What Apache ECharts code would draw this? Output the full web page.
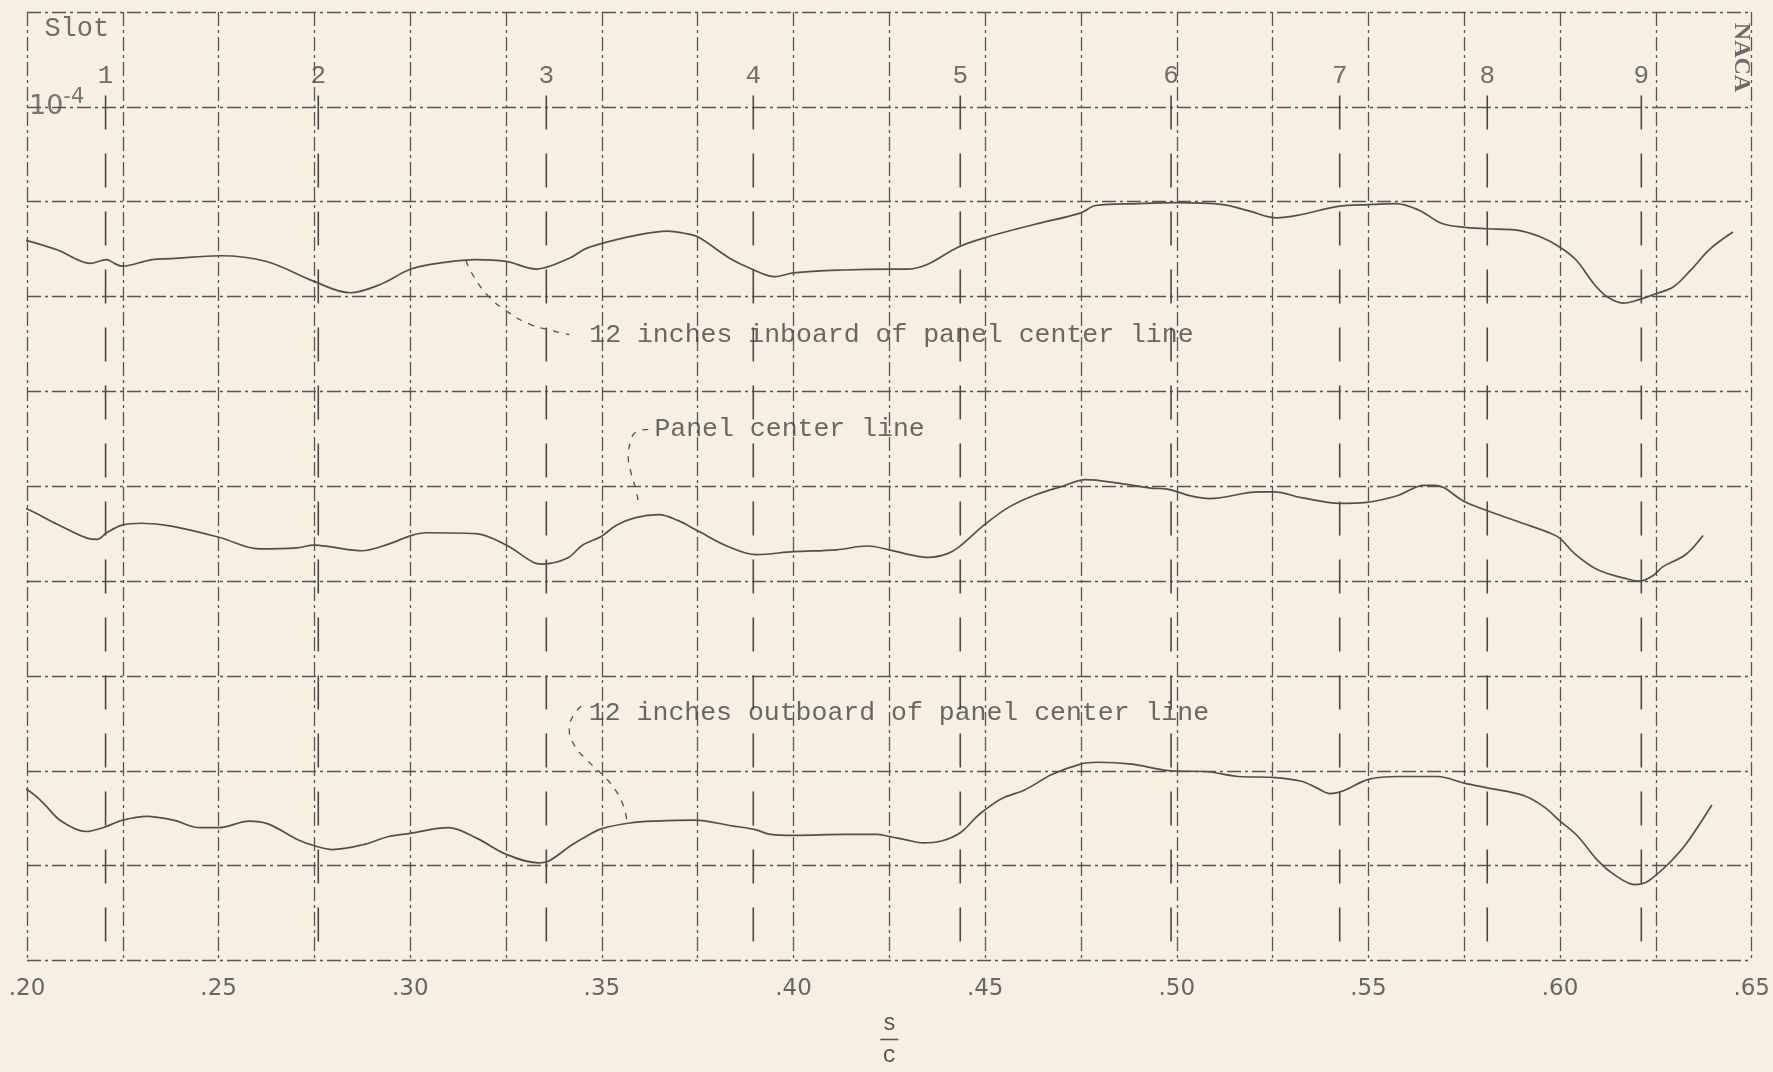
<!DOCTYPE html>
<html>
<head>
<meta charset="utf-8">
<script src="https://cdn.jsdelivr.net/npm/echarts/dist/echarts.min.js"></script>
<style>
html,body{margin:0;padding:0;background:#f7efe2;}
#chart{width:1773px;height:1072px;}
</style>
</head>
<body>
<div id="chart"></div>
<script>
// ---- data (x = s/c, y in grid units; one grid unit = 10^-4) ----
const inboard = [
  [0.197,7.61],[0.200,7.59],[0.208,7.49],[0.2165,7.35],[0.2195,7.38],[0.2208,7.39],[0.2228,7.35],[0.2248,7.32],
  [0.2327,7.39],[0.2377,7.40],[0.2503,7.43],[0.2625,7.37],[0.2749,7.16],[0.2843,7.04],[0.2923,7.13],[0.3002,7.29],
  [0.3090,7.36],[0.3171,7.39],[0.3250,7.37],[0.3329,7.29],[0.3418,7.41],[0.3455,7.50],[0.3500,7.56],[0.3582,7.64],
  [0.3671,7.69],[0.3711,7.67],[0.3750,7.63],[0.3831,7.41],[0.3891,7.29],[0.3951,7.21],[0.4000,7.25],[0.4130,7.28],
  [0.4250,7.29],[0.4300,7.29],[0.4350,7.34],[0.4429,7.52],[0.4499,7.62],[0.4628,7.76],[0.4748,7.88],[0.4788,7.96],
  [0.4900,7.98],[0.4995,7.99],[0.5120,7.97],[0.5190,7.90],[0.5260,7.83],[0.5320,7.86],[0.5421,7.95],[0.5502,7.97],
  [0.5572,7.98],[0.5632,7.91],[0.5692,7.77],[0.5752,7.73],[0.5835,7.71],[0.5887,7.70],[0.5948,7.63],[0.6000,7.52],
  [0.6043,7.38],[0.6087,7.14],[0.6122,7.00],[0.6165,6.93],[0.6208,6.97],[0.6250,7.03],[0.6295,7.10],[0.6339,7.27],
  [0.6391,7.50],[0.6451,7.68]
];
const centerLine = [
  [0.197,4.79],[0.200,4.76],[0.2079,4.60],[0.2159,4.45],[0.2183,4.44],[0.2208,4.51],[0.2248,4.59],[0.2298,4.61],
  [0.2377,4.58],[0.2503,4.46],[0.2605,4.34],[0.2704,4.35],[0.2749,4.38],[0.2794,4.36],[0.2873,4.32],[0.2943,4.39],
  [0.3002,4.48],[0.3042,4.51],[0.3171,4.50],[0.3250,4.38],[0.3320,4.20],[0.3344,4.18],[0.3409,4.24],[0.3450,4.38],
  [0.3498,4.47],[0.3538,4.59],[0.3588,4.67],[0.3648,4.70],[0.3698,4.64],[0.3750,4.53],[0.3832,4.36],[0.3902,4.28],
  [0.4000,4.31],[0.4112,4.33],[0.4192,4.37],[0.4250,4.33],[0.4302,4.28],[0.4352,4.25],[0.4402,4.29],[0.4432,4.36],
  [0.4500,4.60],[0.4562,4.78],[0.4632,4.91],[0.4702,5.00],[0.4762,5.07],[0.4852,5.03],[0.4932,4.98],[0.4975,4.97],
  [0.5035,4.90],[0.5085,4.87],[0.5215,4.94],[0.5255,4.94],[0.5325,4.88],[0.5425,4.82],[0.5495,4.83],[0.5575,4.90],
  [0.5645,5.01],[0.5675,5.01],[0.5750,4.84],[0.5825,4.72],[0.5895,4.62],[0.5978,4.50],[0.6000,4.45],[0.6038,4.29],
  [0.6098,4.12],[0.6178,4.02],[0.6208,4.00],[0.6243,4.06],[0.6268,4.15],[0.6328,4.28],[0.6373,4.48]
];
const outboard = [
  [0.196,1.84],[0.200,1.80],[0.204,1.67],[0.2089,1.47],[0.2154,1.36],[0.2198,1.40],[0.2250,1.48],[0.2313,1.52],
  [0.2382,1.48],[0.2451,1.40],[0.2500,1.40],[0.2580,1.47],[0.2629,1.44],[0.2708,1.27],[0.2750,1.21],[0.2797,1.17],
  [0.2876,1.22],[0.2946,1.31],[0.3000,1.34],[0.3099,1.40],[0.3173,1.29],[0.3250,1.12],[0.3333,1.03],[0.3362,1.05],
  [0.3422,1.22],[0.3460,1.31],[0.3500,1.39],[0.3573,1.45],[0.3642,1.47],[0.3740,1.48],[0.3840,1.42],[0.3900,1.38],
  [0.3940,1.33],[0.4000,1.32],[0.4137,1.33],[0.4217,1.33],[0.4247,1.31],[0.4297,1.27],[0.4337,1.24],[0.4386,1.26],
  [0.4436,1.35],[0.4476,1.51],[0.4500,1.59],[0.4545,1.71],[0.4604,1.80],[0.4674,1.96],[0.4749,2.07],[0.4793,2.09],
  [0.4883,2.07],[0.4983,2.00],[0.5080,1.99],[0.5160,1.94],[0.5250,1.93],[0.5325,1.89],[0.5365,1.82],[0.5400,1.76],
  [0.5435,1.79],[0.5500,1.91],[0.5580,1.94],[0.5680,1.94],[0.5750,1.87],[0.5810,1.82],[0.5905,1.74],[0.5958,1.62],
  [0.6000,1.47],[0.6046,1.31],[0.6099,1.05],[0.6143,0.90],[0.6195,0.80],[0.6222,0.82],[0.6250,0.90],[0.6283,1.02],
  [0.6327,1.22],[0.6396,1.64]
];
const slotPositions = [0.2205, 0.276, 0.3355, 0.3895, 0.4435, 0.4985, 0.5425, 0.581, 0.6212];
const slotNames = ['1','2','3','4','5','6','7','8','9'];
const xTickValues = [0.20,0.25,0.30,0.35,0.40,0.45,0.50,0.55,0.60,0.65];
const xTickLabels = ['.20','.25','.30','.35','.40','.45','.50','.55','.60','.65'];
const curveLabels = [
  ['12 inches inboard of panel center line', 0.3467, 6.60],
  ['Panel center line', 0.3637, 5.60],
  ['12 inches outboard of panel center line', 0.3466, 2.61]
];
const leaderInboard = [[0.3145,7.38],[0.3166,7.21],[0.3205,7.00],[0.3254,6.84],[0.3311,6.71],[0.3371,6.64],[0.3415,6.60]];
const leaderCenter = [[0.3621,5.60],[0.3589,5.57],[0.3574,5.46],[0.3569,5.31],[0.3576,5.14],[0.3589,4.96],[0.3597,4.79]];
const leaderOutboard = [[0.3446,2.68],[0.3425,2.58],[0.3415,2.44],[0.3428,2.27],[0.3462,2.11],[0.3501,1.96],[0.3535,1.80],[0.3556,1.63],[0.3566,1.45]];

// ---- styling ----
const INK = '#505050';
const gridLineStyle = {color: '#555555', width: 1.3, type: [14, 4, 3, 4]};
const typeFont = 'Liberation Mono';
const slotTop = 9.12;

function curve(name, data) {
  return {type: 'line', name: name, data: data, symbol: 'none', smooth: 0.35, clip: false, silent: true, z: 5,
          lineStyle: {color: INK, width: 1.7}};
}
function leader(data) {
  return {type: 'line', data: data, symbol: 'none', smooth: 0.5, clip: false, silent: true, z: 4,
          lineStyle: {color: INK, width: 1.3, type: [6, 7]}};
}
function textPoint(data, labelOpts) {
  return {type: 'scatter', data: data, symbolSize: 0, silent: true, z: 6,
          itemStyle: {color: 'rgba(0,0,0,0)'}, label: Object.assign({show: true}, labelOpts)};
}

const series = [
  curve('12 inches inboard of panel center line', inboard),
  curve('Panel center line', centerLine),
  curve('12 inches outboard of panel center line', outboard),
  leader(leaderInboard), leader(leaderCenter), leader(leaderOutboard)
];
slotPositions.forEach(function (x) {
  series.push({type: 'line', data: [[x, slotTop], [x, 0]], symbol: 'none', silent: true, z: 3,
               lineStyle: {color: '#474747', width: 1.6, type: [34, 24]}});
});
series.push(textPoint(slotPositions.map(function (x, i) { return [x, 9.32, slotNames[i]]; }), {
  position: 'inside', formatter: function (p) { return p.value[2]; },
  fontFamily: typeFont, fontSize: 26, color: '#4c4c4c'
}));
series.push(textPoint(curveLabels.map(function (c) { return [c[1], c[2], c[0]]; }), {
  position: 'right', distance: 0, formatter: function (p) { return p.value[2]; },
  fontFamily: typeFont, fontSize: 26.5, color: '#454545'
}));
series.push(textPoint([[0.213, 9.82, 'Slot']], {
  position: 'inside', formatter: function (p) { return p.value[2]; },
  fontFamily: typeFont, fontSize: 27, color: '#4c4c4c'
}));
series.push(textPoint([[0.2, 9, '10']], {
  position: 'right', distance: 2,
  formatter: function () { return '{b|10}{s|-4}'; },
  rich: {
    b: {fontFamily: 'DejaVu Sans', fontSize: 27, color: '#555', lineHeight: 40},
    s: {fontFamily: 'DejaVu Sans', fontSize: 21, color: '#555', lineHeight: 16, verticalAlign: 'top'}
  }
}));
series.push(textPoint([[0.6472, 9.52, 'NACA']], {
  position: 'inside', rotate: -90, formatter: function (p) { return p.value[2]; },
  fontFamily: 'Liberation Serif', fontSize: 24, fontWeight: 'bold', color: '#4a4a4a'
}));

const option = {
  backgroundColor: '#f7efe2',
  animation: false,
  grid: {left: 27, right: 16, top: 12, bottom: 101, containLabel: false},
  xAxis: {
    type: 'value', min: 0.2, max: 0.65, interval: 0.025,
    axisLine: {show: false}, axisTick: {show: false},
    splitLine: {show: true, lineStyle: gridLineStyle},
    axisLabel: {
      margin: 17, fontFamily: 'DejaVu Sans', fontSize: 23, color: '#666',
      showMinLabel: true, showMaxLabel: true,
      formatter: function (v) {
        for (let i = 0; i < xTickValues.length; i++) {
          if (Math.abs(v - xTickValues[i]) < 1e-6) return xTickLabels[i];
        }
        return '';
      }
    },
    name: '{t|s}\n{bar| }\n{t|c}',
    nameLocation: 'middle', nameGap: 50,
    nameTextStyle: {
      rich: {
        t: {fontFamily: typeFont, fontSize: 23, color: '#555', align: 'center', lineHeight: 26},
        bar: {width: 18, height: 1.6, backgroundColor: '#555', align: 'center', lineHeight: 6, fontSize: 4}
      }
    }
  },
  yAxis: {
    type: 'value', min: 0, max: 10, interval: 1,
    axisLine: {show: false}, axisTick: {show: false}, axisLabel: {show: false},
    splitLine: {show: true, lineStyle: gridLineStyle}
  },
  series: series
};

const chart = echarts.init(document.getElementById('chart'));
chart.setOption(option);
</script>
</body>
</html>
